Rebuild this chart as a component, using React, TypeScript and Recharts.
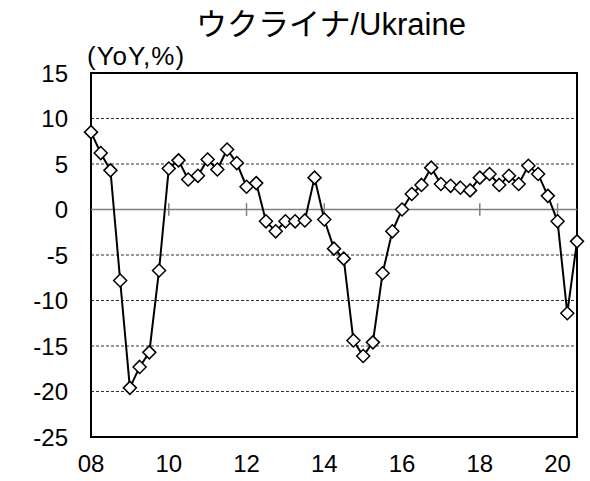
import React from "react";
import { LineChart, Line, XAxis, YAxis, CartesianGrid, ReferenceLine, ReferenceArea } from 'recharts';

// quarterly real GDP growth, 2008Q1 - 2020Q3
const years = ['08', '09', '10', '11', '12', '13', '14', '15', '16', '17', '18', '19', '20'];
const quarters = ['Q1', 'Q2', 'Q3', 'Q4'];

const gdpYoY = [
    8.5, 6.2, 4.3, -7.8,
    -19.6, -17.3, -15.7, -6.7,
    4.5, 5.4, 3.3, 3.7,
    5.5, 4.4, 6.6, 5.1,
    2.5, 2.9, -1.3, -2.4,
    -1.3, -1.3, -1.2, 3.5,
    -1.1, -4.3, -5.4, -14.4,
    -16.1, -14.6, -7.0, -2.4,
    0.0, 1.7, 2.7, 4.6,
    2.8, 2.6, 2.4, 2.1,
    3.5, 3.9, 2.7, 3.7,
    2.8, 4.8, 3.9, 1.5,
    -1.3, -11.4, -3.5,
];

const yTicks = [-25, -20, -15, -10, -5, 0, 5, 10, 15];
const tickYears = ['10', '12', '14', '16', '18', '20'];

const categories = years.flatMap(y => quarters.map(q => y + q));
const data = gdpYoY.map((v, i) => ({ q: categories[i], value: v }));

const FONT = '"Liberation Sans", Arial, "Noto Sans CJK JP", sans-serif';

const Diamond = (props: any) => {
    const { cx, cy, index } = props;
    if (cx == null || cy == null) return <g key={`d-${index}`} />;
    const r = 6.5;
    return (
        <polygon
            key={`d-${index}`}
            points={`${cx},${cy - r} ${cx + r},${cy} ${cx},${cy + r} ${cx - r},${cy}`}
            fill="#fff"
            stroke="#000"
            strokeWidth={1.5}
        />
    );
};

const App: React.FC = () => {
    return (
        <div style={{ position: 'absolute', left: 0, top: 0, width: 590, height: 481, background: '#fff' }}>
            <LineChart width={590} height={481} data={data} margin={{ top: 73, right: 13, bottom: 0, left: 0 }}>
                <CartesianGrid vertical={false} stroke="#333" strokeDasharray="3 2" />
                <XAxis
                    dataKey="q"
                    interval={7}
                    height={44}
                    axisLine={false}
                    tickLine={false}
                    tickSize={0}
                    tickMargin={18}
                    tickFormatter={(v: string) => v.slice(0, 2)}
                    tick={{ fill: '#000', fontSize: 24, fontFamily: FONT }}
                />
                <YAxis
                    type="number"
                    domain={[-25, 15]}
                    ticks={yTicks}
                    width={91}
                    axisLine={false}
                    tickLine={false}
                    tickSize={0}
                    tickMargin={23}
                    tick={{ fill: '#000', fontSize: 24, fontFamily: FONT }}
                />
                <ReferenceLine y={0} stroke="#808080" strokeWidth={1.5} />
                {tickYears.map(y => (
                    <ReferenceLine
                        key={y}
                        segment={[{ x: y + 'Q1', y: -0.7 }, { x: y + 'Q1', y: 0.7 }]}
                        stroke="#808080"
                        strokeWidth={1.5}
                    />
                ))}
                <ReferenceArea y1={-25} y2={15} fill="none" stroke="#000" strokeWidth={2} />
                <Line
                    dataKey="value"
                    stroke="#000"
                    strokeWidth={2}
                    dot={Diamond}
                    activeDot={false}
                    isAnimationActive={false}
                />
            </LineChart>
            <svg width={590} height={481} style={{ position: 'absolute', left: 0, top: 0, pointerEvents: 'none' }}>
                <text x={331} y={35} textAnchor="middle" fontSize={31} fontFamily={FONT} fill="#000">ウクライナ/Ukraine</text>
                <text x={87} y={65} fontSize={26} letterSpacing={1} fontFamily={FONT} fill="#000">(YoY,%)</text>
            </svg>
        </div>
    );
}

export default App;
